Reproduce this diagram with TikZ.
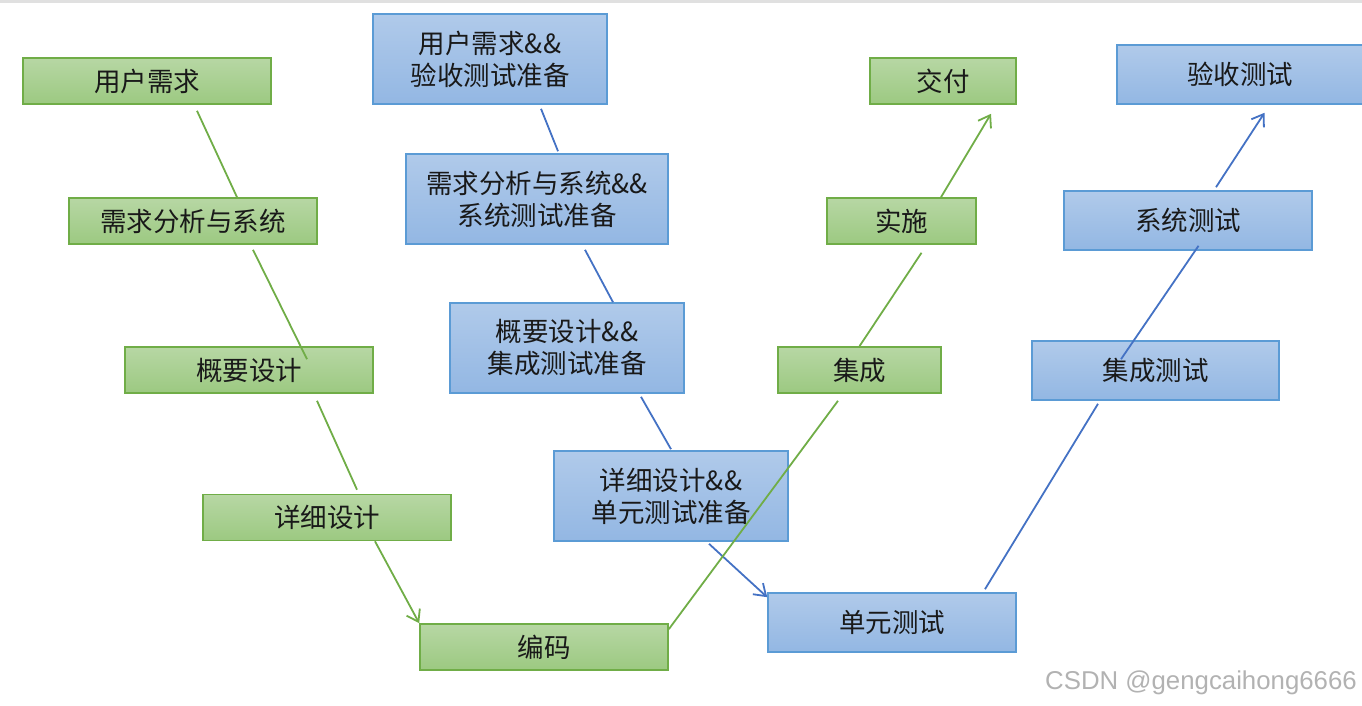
\documentclass[tikz,border=0pt]{standalone}
\usepackage{fontspec}
\setmainfont{Noto Sans CJK SC}
\newfontfamily\wmfont{Liberation Sans}
\usepackage{tikz}
\usetikzlibrary{arrows.meta}
\usepackage{xcolor}
\definecolor{gline}{HTML}{70AD47}
\definecolor{gtop}{HTML}{B7D7A4}
\definecolor{gbot}{HTML}{9CC981}
\definecolor{bline}{HTML}{5B9BD5}
\definecolor{btop}{HTML}{B0CAEA}
\definecolor{bbot}{HTML}{93B7E3}
\definecolor{barrow}{HTML}{4472C4}

\begin{document}
\begin{tikzpicture}[x=1pt,y=-1pt,>={Straight Barb[length=11pt,width=15pt]}]
\tikzset{
    g1/.style={%
        draw=gline, line width=1.6pt,
        top color=gtop, bottom color=gbot,
        rectangle, inner sep=0pt,
        minimum height=46pt,
        text=black!90,
        font=\fontsize{26.5}{32}\selectfont
        },
    b1/.style={%
        draw=bline, line width=1.6pt,
        top color=btop, bottom color=bbot,
        rectangle, inner sep=0pt, align=center,
        minimum height=59pt,
        minimum width=248pt,
        text=black!90,
        font=\fontsize{26.5}{32}\selectfont
        },
    b2/.style={%
        b1,
        minimum height=90pt,
        minimum width=234pt
        },
    gl/.style={draw=gline, line width=1.8pt},
    bl/.style={draw=barrow, line width=1.8pt},
}
\useasboundingbox (0,0) rectangle (1362,706);
\fill[black!12] (0,0) rectangle (1362,3);
%%%PHASES
\node[g1, minimum width=248pt] (u1) at (147,81) {用户需求};
\node[g1, minimum width=248pt] (u2) at (193,221) {需求分析与系统};
\node[g1, minimum width=248pt] (u3) at (249,370) {概要设计};
\node[g1, minimum width=248pt] (u4) at (327,517.5) {详细设计};
\node[g1, minimum width=248pt] (u5) at (544,647) {编码};
\node[g1, minimum width=163pt] (u6) at (859.5,370) {集成};
\node[g1, minimum width=149pt] (u7) at (901.5,221) {实施};
\node[g1, minimum width=146pt] (u8) at (943,81) {交付};
%%%TESTS
\node[b2] (t1) at (490,59) {用户需求\&\&\\验收测试准备};
\node[b2, minimum width=262pt] (t2) at (537,199) {需求分析与系统\&\&\\系统测试准备};
\node[b2] (t3) at (567,348) {概要设计\&\&\\集成测试准备};
\node[b2] (t4) at (671,496) {详细设计\&\&\\单元测试准备};
\node[b1] (t5) at (892,622.5) {单元测试};
\node[b1, minimum width=247pt] (t6) at (1155.5,370.5) {集成测试};
\node[b1] (t7) at (1188,220.5) {系统测试};
\node[b1, minimum width=246pt] (t8) at (1240,74.5) {验收测试};
%%%LEFT SIDE
\draw[gl] ([xshift=50pt,yshift=-6pt]u1.south) -- ([xshift=44pt]u2.north);
\draw[gl] ([xshift=60pt,yshift=-5pt]u2.south) -- ([xshift=58pt,yshift=-13pt]u3.north);
\draw[gl] ([xshift=68pt,yshift=-7pt]u3.south) -- ([xshift=30pt,yshift=4pt]u4.north);
\draw[gl,->] ([xshift=48pt]u4.south) -- (u5.north west);
\draw[bl] ([xshift=51pt,yshift=-4pt]t1.south) -- ([xshift=21pt,yshift=2pt]t2.north);
\draw[bl] ([xshift=48pt,yshift=-5pt]t2.south) -- ([xshift=46pt]t3.north);
\draw[bl] ([xshift=74pt,yshift=-3pt]t3.south) -- ([yshift=1pt]t4.north);
\draw[bl,->] ([xshift=38pt,yshift=-2pt]t4.south) -- ([yshift=-5pt]t5.north west);
%%%RIGHT SIDE
\draw[gl] ([yshift=-6pt]u5.north east) -- ([xshift=-21.5pt,yshift=-7pt]u6.south);
\draw[gl] (u6.north) -- ([xshift=20pt,yshift=-8pt]u7.south);
\draw[gl,->] ([xshift=39.5pt]u7.north) -- ([xshift=48pt,yshift=-9pt]u8.south);
\draw[bl] ([xshift=93pt,yshift=3pt]t5.north) -- ([xshift=-57.5pt,yshift=-3pt]t6.south);
\draw[bl] ([xshift=-34.5pt,yshift=-19pt]t6.north) -- ([xshift=10.5pt,yshift=5pt]t7.south);
\draw[bl,->] ([xshift=28pt,yshift=3pt]t7.north) -- ([xshift=24.5pt,yshift=-8pt]t8.south);
%%%MARK
\node[anchor=west, inner sep=0pt, text=black!30, font=\wmfont\fontsize{25.8}{30}\selectfont] (wm) at (1045,683) {CSDN @gengcaihong6666};
\end{tikzpicture}
\end{document}
